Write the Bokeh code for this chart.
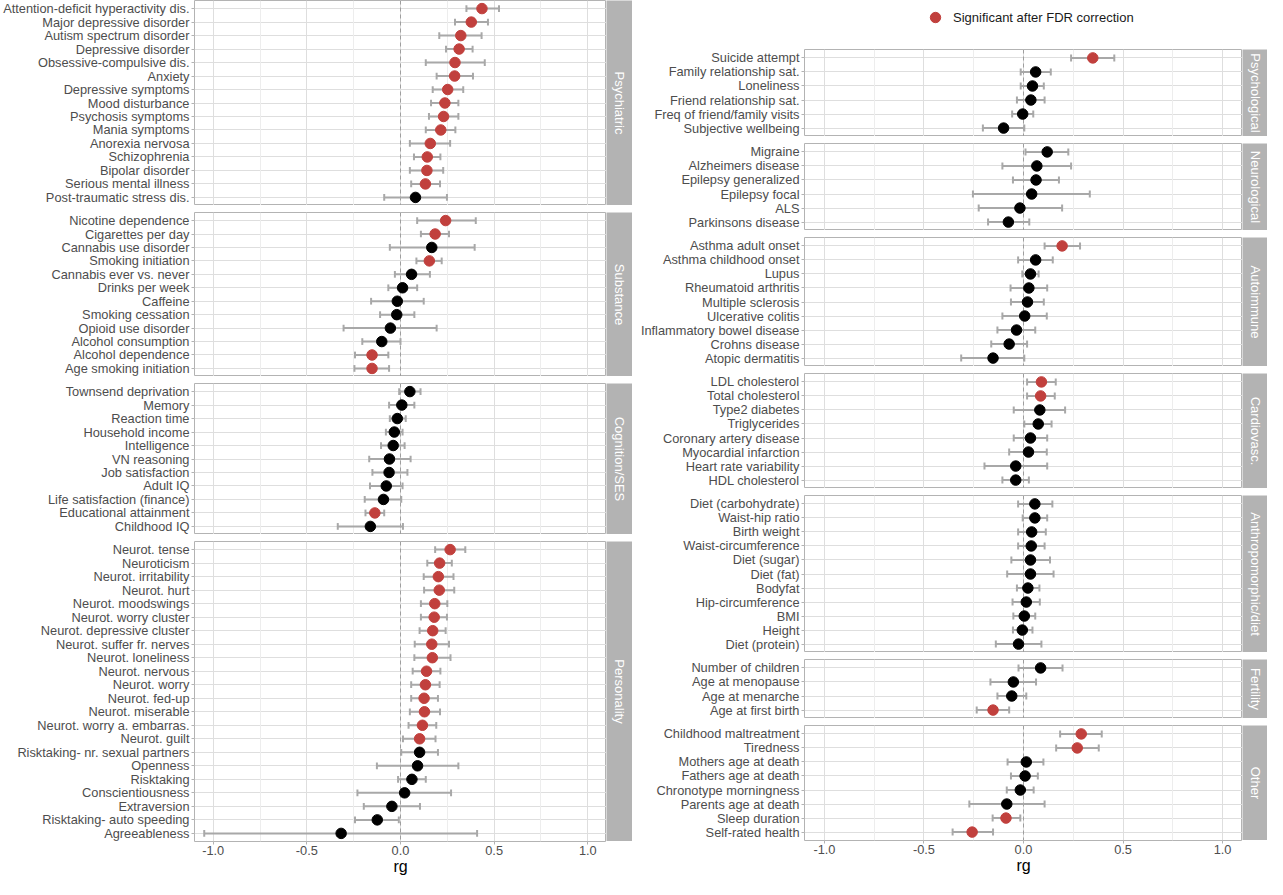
import math
from bokeh.plotting import figure
from bokeh.models import (ColumnDataSource, FactorRange, Range1d, FixedTicker, Grid, Span,
                          Label, Legend, LegendItem)
from bokeh.layouts import row, column
from bokeh.embed import file_html
from bokeh.resources import INLINE

# ---------------- data ----------------
psychiatric_labels = ["Attention-deficit hyperactivity dis.", "Major depressive disorder", "Autism spectrum disorder",
                      "Depressive disorder", "Obsessive-compulsive dis.", "Anxiety", "Depressive symptoms",
                      "Mood disturbance", "Psychosis symptoms", "Mania symptoms", "Anorexia nervosa",
                      "Schizophrenia", "Bipolar disorder", "Serious mental illness", "Post-traumatic stress dis."]
psychiatric_rg = [0.435, 0.378, 0.322, 0.313, 0.291, 0.289, 0.252, 0.237, 0.230, 0.215, 0.159, 0.143, 0.141, 0.133, 0.080]
psychiatric_lo = [0.352, 0.291, 0.207, 0.243, 0.135, 0.193, 0.172, 0.163, 0.152, 0.135, 0.050, 0.072, 0.050, 0.057, -0.087]
psychiatric_hi = [0.526, 0.467, 0.433, 0.385, 0.450, 0.387, 0.335, 0.309, 0.309, 0.293, 0.265, 0.213, 0.228, 0.211, 0.248]
psychiatric_sig = [1, 1, 1, 1, 1, 1, 1, 1, 1, 1, 1, 1, 1, 1, 0]

substance_labels = ["Nicotine dependence", "Cigarettes per day", "Cannabis use disorder", "Smoking initiation",
                    "Cannabis ever vs. never", "Drinks per week", "Caffeine", "Smoking cessation",
                    "Opioid use disorder", "Alcohol consumption", "Alcohol dependence", "Age smoking initiation"]
substance_rg = [0.241, 0.185, 0.167, 0.154, 0.059, 0.011, -0.017, -0.020, -0.054, -0.100, -0.152, -0.152]
substance_lo = [0.089, 0.109, -0.057, 0.085, -0.030, -0.065, -0.157, -0.109, -0.304, -0.204, -0.243, -0.246]
substance_hi = [0.402, 0.259, 0.396, 0.220, 0.157, 0.089, 0.124, 0.074, 0.193, 0.000, -0.065, -0.061]
substance_sig = [1, 1, 0, 1, 0, 0, 0, 0, 0, 0, 1, 1]

cognition_labels = ["Townsend deprivation", "Memory", "Reaction time", "Household income", "Intelligence",
                    "VN reasoning", "Job satisfaction", "Adult IQ", "Life satisfaction (finance)",
                    "Educational attainment", "Childhood IQ"]
cognition_rg = [0.050, 0.007, -0.017, -0.033, -0.039, -0.059, -0.061, -0.076, -0.091, -0.137, -0.161]
cognition_lo = [-0.007, -0.061, -0.057, -0.078, -0.104, -0.167, -0.150, -0.163, -0.191, -0.187, -0.335]
cognition_hi = [0.107, 0.074, 0.028, 0.011, 0.022, 0.054, 0.037, 0.011, 0.004, -0.087, 0.013]
cognition_sig = [0, 0, 0, 0, 0, 0, 0, 0, 0, 1, 0]

personality_labels = ["Neurot. tense", "Neuroticism", "Neurot. irritability", "Neurot. hurt", "Neurot. moodswings",
                      "Neurot. worry cluster", "Neurot. depressive cluster", "Neurot. suffer fr. nerves",
                      "Neurot. loneliness", "Neurot. nervous", "Neurot. worry", "Neurot. fed-up",
                      "Neurot. miserable", "Neurot. worry a. embarras.", "Neurot. guilt",
                      "Risktaking- nr. sexual partners", "Openness", "Risktaking", "Conscientiousness",
                      "Extraversion", "Risktaking- auto speeding", "Agreeableness"]
personality_rg = [0.265, 0.209, 0.202, 0.207, 0.183, 0.180, 0.172, 0.167, 0.170, 0.139, 0.133, 0.126, 0.128,
                  0.117, 0.102, 0.102, 0.091, 0.061, 0.022, -0.046, -0.124, -0.317]
personality_lo = [0.185, 0.143, 0.124, 0.126, 0.109, 0.109, 0.102, 0.076, 0.074, 0.065, 0.057, 0.057, 0.050,
                  0.043, 0.013, 0.004, -0.126, -0.013, -0.230, -0.196, -0.243, -1.048]
personality_hi = [0.346, 0.274, 0.283, 0.287, 0.250, 0.248, 0.241, 0.259, 0.267, 0.213, 0.209, 0.200, 0.211,
                  0.191, 0.187, 0.200, 0.309, 0.135, 0.270, 0.104, -0.009, 0.409]
personality_sig = [1] * 15 + [0] * 7

psychological_labels = ["Suicide attempt", "Family relationship sat.", "Loneliness", "Friend relationship sat.",
                        "Freq of friend/family visits", "Subjective wellbeing"]
psychological_rg = [0.348, 0.061, 0.045, 0.037, -0.004, -0.100]
psychological_lo = [0.239, -0.014, -0.014, -0.033, -0.057, -0.204]
psychological_hi = [0.456, 0.137, 0.102, 0.106, 0.049, 0.004]
psychological_sig = [1, 0, 0, 0, 0, 0]

neurological_labels = ["Migraine", "Alzheimers disease", "Epilepsy generalized", "Epilepsy focal", "ALS",
                       "Parkinsons disease"]
neurological_rg = [0.119, 0.067, 0.063, 0.041, -0.018, -0.076]
neurological_lo = [0.010, -0.106, -0.053, -0.254, -0.225, -0.178]
neurological_hi = [0.225, 0.239, 0.178, 0.333, 0.194, 0.029]
neurological_sig = [0, 0, 0, 0, 0, 0]

autoimmune_labels = ["Asthma adult onset", "Asthma childhood onset", "Lupus", "Rheumatoid arthritis",
                     "Multiple sclerosis", "Ulcerative colitis", "Inflammatory bowel disease", "Crohns disease",
                     "Atopic dermatitis"]
autoimmune_rg = [0.194, 0.061, 0.035, 0.027, 0.020, 0.006, -0.035, -0.072, -0.153]
autoimmune_lo = [0.106, -0.027, -0.006, -0.065, -0.063, -0.106, -0.131, -0.162, -0.313]
autoimmune_hi = [0.284, 0.147, 0.076, 0.119, 0.102, 0.117, 0.059, 0.018, 0.004]
autoimmune_sig = [1, 0, 0, 0, 0, 0, 0, 0, 0]

cardio_labels = ["LDL cholesterol", "Total cholesterol", "Type2 diabetes", "Triglycerides",
                 "Coronary artery disease", "Myocardial infarction", "Heart rate variability", "HDL cholesterol"]
cardio_rg = [0.090, 0.086, 0.082, 0.074, 0.035, 0.025, -0.039, -0.039]
cardio_lo = [0.018, 0.018, -0.049, 0.004, -0.049, -0.072, -0.196, -0.106]
cardio_hi = [0.162, 0.157, 0.209, 0.141, 0.119, 0.117, 0.119, 0.027]
cardio_sig = [1, 1, 0, 0, 0, 0, 0, 0]

anthro_labels = ["Diet (carbohydrate)", "Waist-hip ratio", "Birth weight", "Waist-circumference", "Diet (sugar)",
                 "Diet (fat)", "Bodyfat", "Hip-circumference", "BMI", "Height", "Diet (protein)"]
anthro_rg = [0.057, 0.057, 0.041, 0.039, 0.035, 0.035, 0.022, 0.014, 0.004, -0.006, -0.025]
anthro_lo = [-0.027, -0.004, -0.027, -0.027, -0.061, -0.082, -0.033, -0.055, -0.051, -0.053, -0.139]
anthro_hi = [0.145, 0.119, 0.112, 0.106, 0.133, 0.151, 0.080, 0.082, 0.059, 0.045, 0.090]
anthro_sig = [0] * 11

fertility_labels = ["Number of children", "Age at menopause", "Age at menarche", "Age at first birth"]
fertility_rg = [0.086, -0.051, -0.059, -0.153]
fertility_lo = [-0.025, -0.166, -0.131, -0.235]
fertility_hi = [0.196, 0.063, 0.014, -0.072]
fertility_sig = [0, 0, 0, 1]

other_labels = ["Childhood maltreatment", "Tiredness", "Mothers age at death", "Fathers age at death",
                "Chronotype morningness", "Parents age at death", "Sleep duration", "Self-rated health"]
other_rg = [0.290, 0.270, 0.014, 0.008, -0.016, -0.084, -0.088, -0.258]
other_lo = [0.184, 0.164, -0.080, -0.063, -0.084, -0.272, -0.155, -0.356]
other_hi = [0.393, 0.378, 0.100, 0.072, 0.051, 0.106, -0.016, -0.153]
other_sig = [1, 1, 0, 0, 0, 0, 1, 1]

x_ticks = [-1, -0.5, 0, 0.5, 1]
x_tick_labels = ["-1.0", "-0.5", "0.0", "0.5", "1.0"]
x_minor_ticks = [-0.75, -0.25, 0.25, 0.75]
legend_label = "Significant after FDR correction"

# ---------------- style ----------------
RED = "#C1403D"
BLACK = "#000000"
BAR = "#A8A8A8"
STRIP = "#B3B3B3"
FONT = "Liberation Sans"
TXT = "#4D4D4D"


def panel(labels, rg, lo, hi, sig, strip_text, frame_h, label_space, frame_w, strip_w, bottom):
    src = ColumnDataSource(data=dict(y=labels, rg=rg, lo=lo, hi=hi,
                                     color=[RED if s else BLACK for s in sig]))
    yr = FactorRange(factors=list(reversed(labels)), range_padding=0.1, range_padding_units="absolute")
    p = figure(y_range=yr, x_range=Range1d(-1.1, 1.1), frame_width=frame_w, frame_height=frame_h,
               output_backend="svg", toolbar_location=None,
               x_axis_location="below" if bottom else None,
               min_border_left=label_space, min_border_right=0, min_border_top=0, min_border_bottom=0,
               background_fill_color="white", border_fill_color="white")
    p.outline_line_color = STRIP
    p.outline_line_width = 1
    p.xgrid.visible = False
    p.add_layout(Grid(dimension=0, ticker=FixedTicker(ticks=x_minor_ticks),
                      grid_line_color="#EDEDED", grid_line_width=1))
    p.add_layout(Grid(dimension=0, ticker=FixedTicker(ticks=x_ticks),
                      grid_line_color="#DEDEDE", grid_line_width=1))
    p.ygrid.grid_line_color = "#DEDEDE"
    p.ygrid.grid_line_width = 1
    p.add_layout(Span(location=0, dimension="height", line_color="#9E9E9E", line_dash="4 3",
                      line_width=1, level="underlay"))

    ax = p.yaxis[0]
    ax.axis_line_color = None
    ax.major_tick_line_color = STRIP
    ax.major_tick_out = 3
    ax.major_tick_in = 0
    ax.major_label_standoff = 2
    ax.major_label_text_font = FONT
    ax.major_label_text_font_size = "12.8px"
    ax.major_label_text_color = TXT

    if bottom:
        xa = p.xaxis[0]
        xa.ticker = FixedTicker(ticks=x_ticks)
        xa.major_label_overrides = dict(zip(x_ticks, x_tick_labels))
        xa.axis_line_color = None
        xa.major_tick_line_color = STRIP
        xa.major_tick_out = 3
        xa.major_tick_in = 0
        xa.minor_tick_line_color = None
        xa.major_label_standoff = 1
        xa.major_label_text_font = FONT
        xa.major_label_text_font_size = "12.8px"
        xa.major_label_text_color = TXT
        xa.axis_label = "rg"
        xa.axis_label_text_font = FONT
        xa.axis_label_text_font_size = "16px"
        xa.axis_label_text_font_style = "normal"
        xa.axis_label_text_color = "#000000"
        xa.axis_label_standoff = 0

    p.segment(x0="lo", y0="y", x1="hi", y1="y", line_color=BAR, line_width=2, source=src)
    p.rect(x="lo", y="y", width=2, width_units="screen", height=0.5, fill_color=BAR, line_color=None, source=src)
    p.rect(x="hi", y="y", width=2, width_units="screen", height=0.5, fill_color=BAR, line_color=None, source=src)
    p.scatter(x="rg", y="y", size=10.5, fill_color="color", line_color="color", source=src)

    s = figure(frame_width=strip_w, frame_height=frame_h, x_range=Range1d(0, 1), y_range=Range1d(0, 1),
               output_backend="svg", toolbar_location=None, x_axis_location=None, y_axis_location=None,
               min_border=0, background_fill_color=STRIP, border_fill_color=STRIP)
    s.outline_line_color = None
    s.grid.visible = False
    s.add_layout(Label(x=0.5, y=0.5, text=strip_text, angle=-math.pi / 2, text_align="center",
                       text_baseline="middle", text_color="white", text_font_size="13px", text_font=FONT))
    return row(p, s, spacing=0)


GAP = 7
AXIS_H = 36
TOTAL_H = 879

# left column
left_groups = [
    (psychiatric_labels, psychiatric_rg, psychiatric_lo, psychiatric_hi, psychiatric_sig, "Psychiatric"),
    (substance_labels, substance_rg, substance_lo, substance_hi, substance_sig, "Substance"),
    (cognition_labels, cognition_rg, cognition_lo, cognition_hi, cognition_sig, "Cognition/SES"),
    (personality_labels, personality_rg, personality_lo, personality_hi, personality_sig, "Personality"),
]
units_l = sum(len(g[0]) + 0.2 for g in left_groups)
u_l = (TOTAL_H - GAP * (len(left_groups) - 1) - AXIS_H) / units_l
left_rows = []
for i, g in enumerate(left_groups):
    h = int(math.floor((len(g[0]) + 0.2) * u_l))
    left_rows.append(panel(*g, frame_h=h, label_space=194, frame_w=412, strip_w=26,
                           bottom=(i == len(left_groups) - 1)))
left_col = column(*left_rows, spacing=GAP)

# right column
right_groups = [
    (psychological_labels, psychological_rg, psychological_lo, psychological_hi, psychological_sig, "Psychological"),
    (neurological_labels, neurological_rg, neurological_lo, neurological_hi, neurological_sig, "Neurological"),
    (autoimmune_labels, autoimmune_rg, autoimmune_lo, autoimmune_hi, autoimmune_sig, "Autoimmune"),
    (cardio_labels, cardio_rg, cardio_lo, cardio_hi, cardio_sig, "Cardiovasc."),
    (anthro_labels, anthro_rg, anthro_lo, anthro_hi, anthro_sig, "Anthropomorphic/diet"),
    (fertility_labels, fertility_rg, fertility_lo, fertility_hi, fertility_sig, "Fertility"),
    (other_labels, other_rg, other_lo, other_hi, other_sig, "Other"),
]
HEADER_H = 42
R_LABEL = 172
R_FRAME = 438
R_STRIP = 25
units_r = sum(len(g[0]) + 0.2 for g in right_groups)
u_r = (TOTAL_H - HEADER_H - GAP * len(right_groups) - AXIS_H) / units_r

header = figure(frame_width=R_LABEL + R_FRAME + R_STRIP, frame_height=HEADER_H, x_range=Range1d(0, 1),
                y_range=Range1d(0, 1), output_backend="svg", toolbar_location=None,
                x_axis_location=None, y_axis_location=None, min_border=0)
header.outline_line_color = None
header.grid.visible = False
# legend key only: a renderer whose single row has no drawable position
key_src = ColumnDataSource(data=dict(x=[float("nan")], y=[float("nan")]))
dot = header.scatter(x="x", y="y", size=10.5, fill_color=RED, line_color=RED, source=key_src)
legend = Legend(items=[LegendItem(label=legend_label, renderers=[dot])], location=(290, 12),
                orientation="horizontal", border_line_color=None, background_fill_alpha=0,
                glyph_width=26, glyph_height=26, label_standoff=5, padding=0, margin=0,
                label_text_font=FONT, label_text_font_size="13px", label_text_color="#1A1A1A")
header.add_layout(legend, "center")

right_rows = [header]
for i, g in enumerate(right_groups):
    h = int(math.floor((len(g[0]) + 0.2) * u_r))
    right_rows.append(panel(*g, frame_h=h, label_space=R_LABEL, frame_w=R_FRAME, strip_w=R_STRIP,
                            bottom=(i == len(right_groups) - 1)))
right_col = column(*right_rows, spacing=GAP)

layout = row(left_col, right_col, spacing=0)

open("out.html", "w").write(file_html(layout, INLINE))
